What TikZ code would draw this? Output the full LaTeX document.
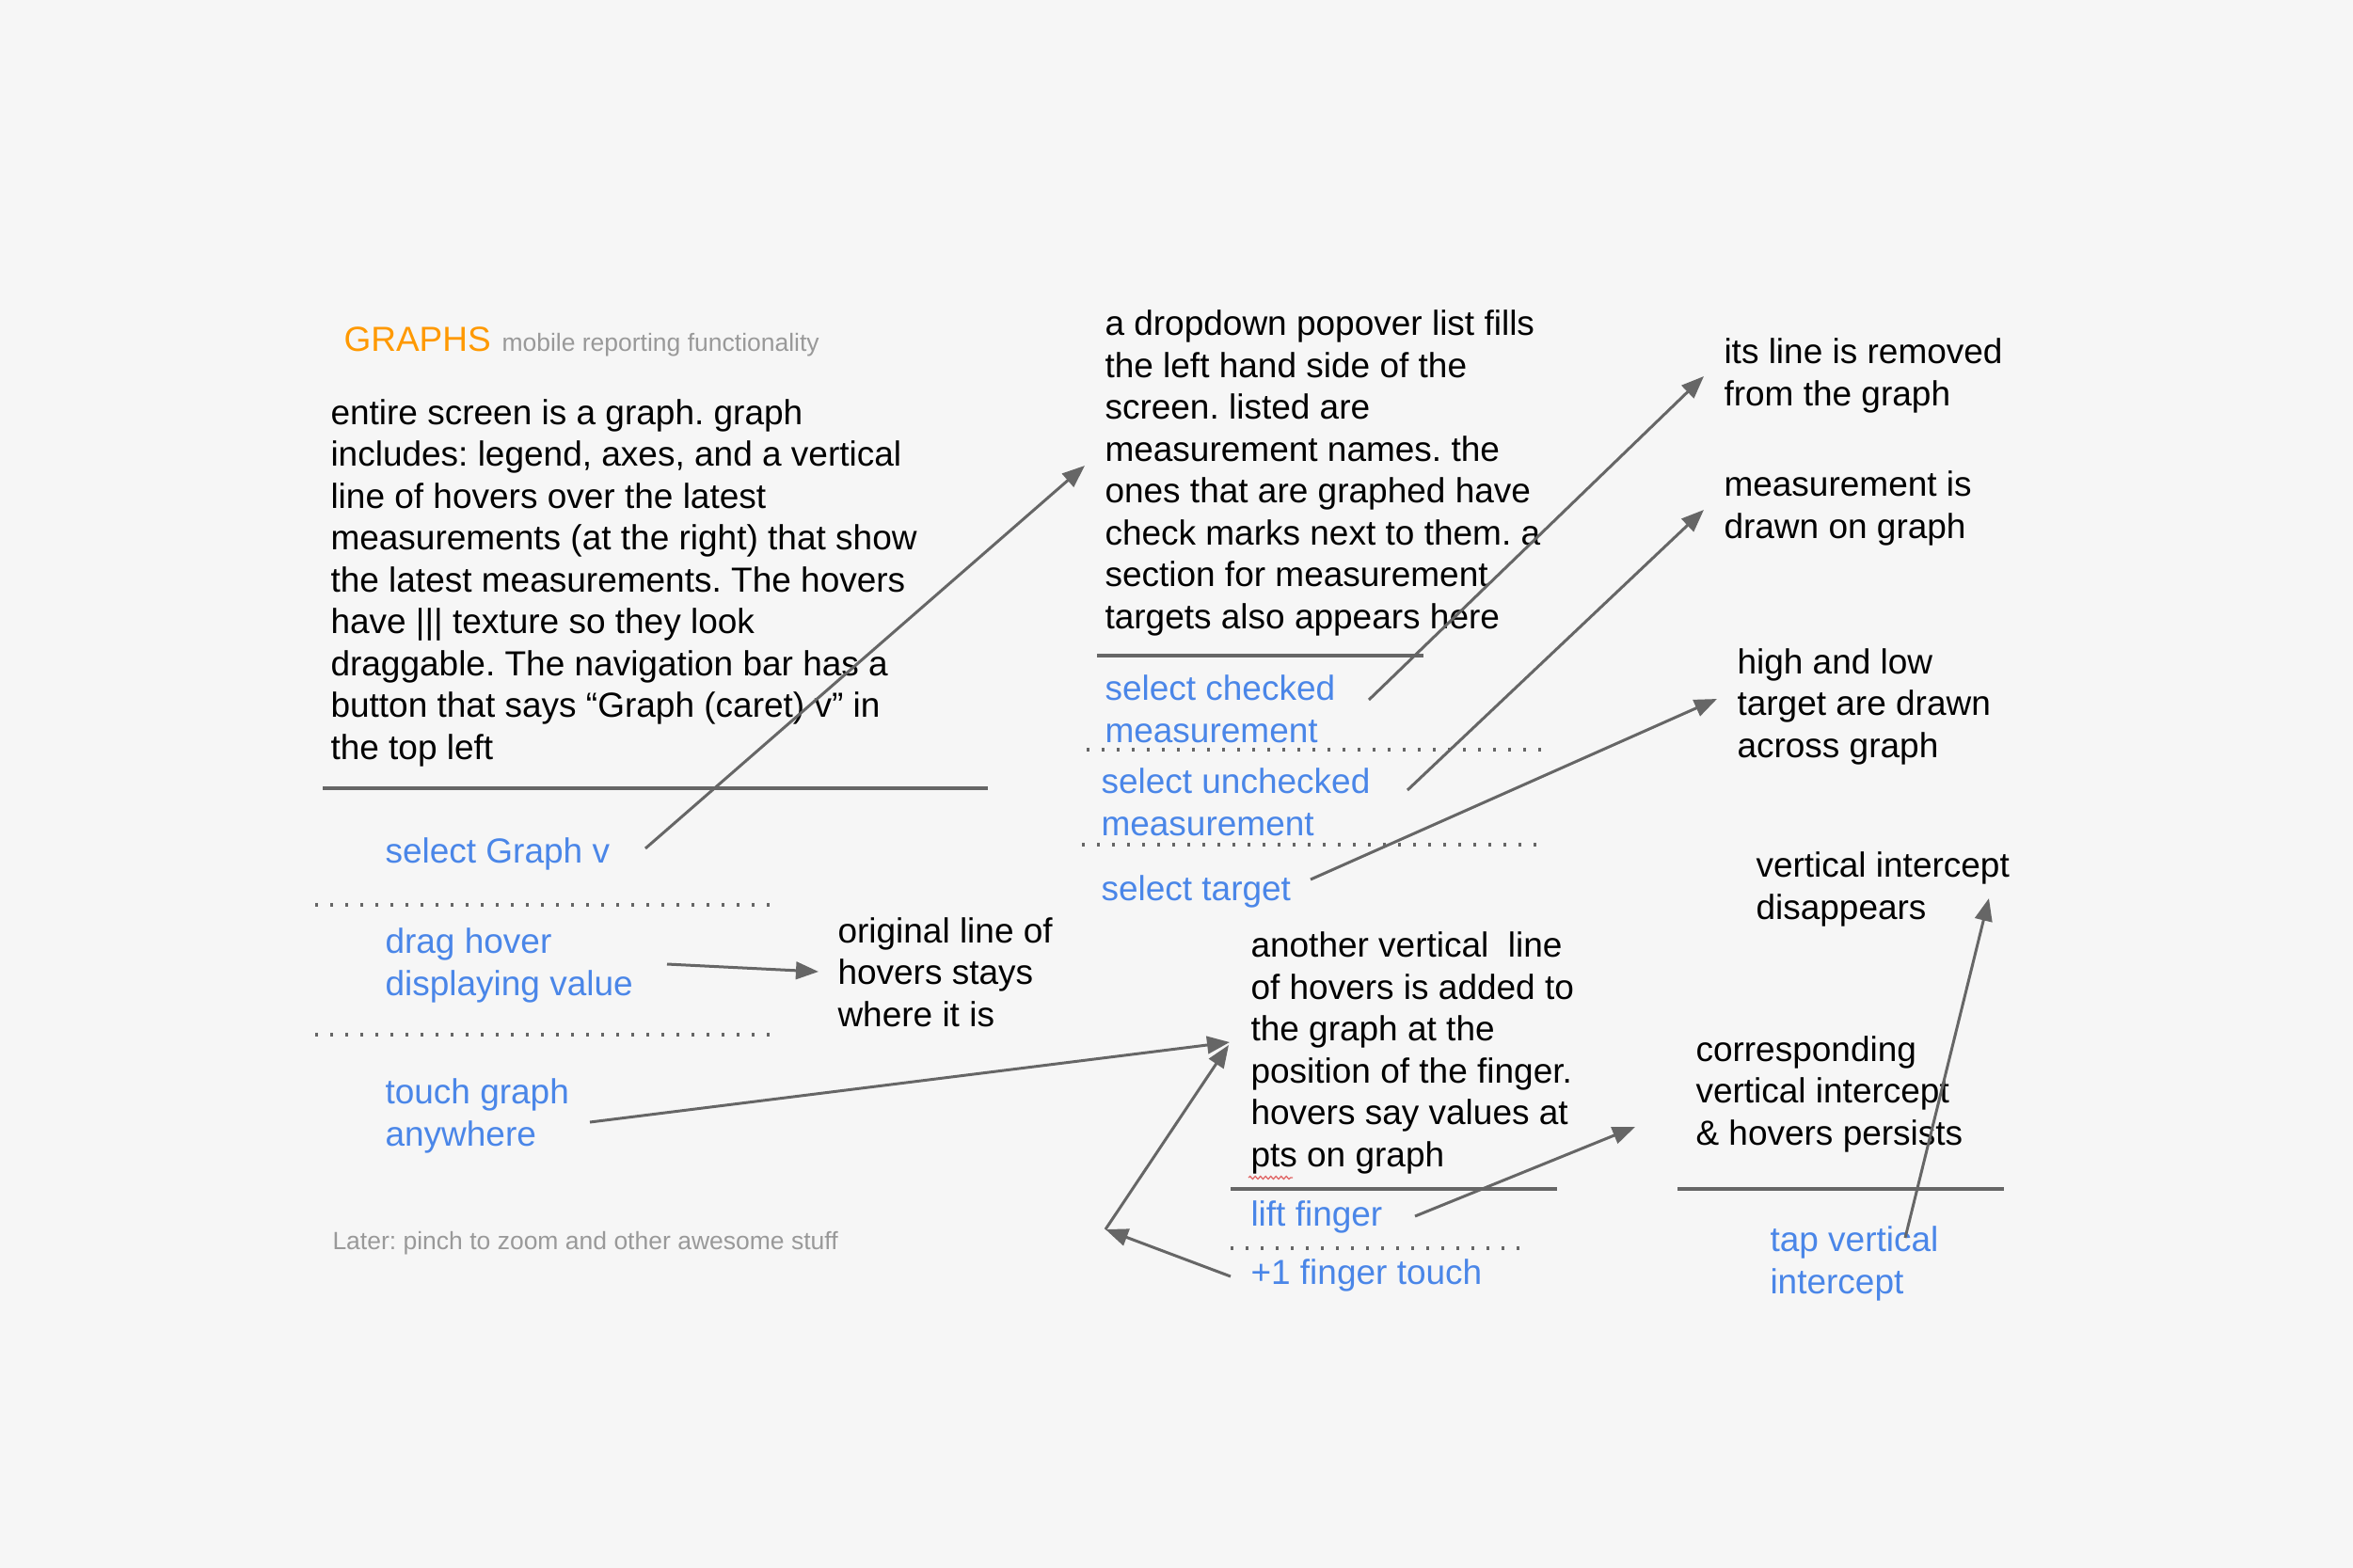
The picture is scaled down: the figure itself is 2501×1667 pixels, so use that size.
\documentclass[tikz,border=0pt]{standalone}
\usepackage{fontspec}
\setmainfont{Liberation Sans}
\usetikzlibrary{arrows.meta,decorations.pathmorphing}
\definecolor{bgcol}{HTML}{F6F6F6}
\definecolor{actblue}{HTML}{4A86E8}
\definecolor{titleorange}{HTML}{FF9900}
\definecolor{notegray}{HTML}{999999}
\definecolor{linegray}{HTML}{666666}
\definecolor{spellred}{HTML}{E06666}
\frenchspacing
\begin{document}
\begin{tikzpicture}[x=0.4pt,y=-0.4pt,
  txt/.style={anchor=base west, align=left, inner sep=0pt, font=\fontsize{14.8pt}{17.8pt}\selectfont},
  body/.style={txt, text=black},
  act/.style={txt, text=actblue},
  note/.style={anchor=base west, inner sep=0pt, font=\fontsize{10.6pt}{12.7pt}\selectfont, text=notegray},
  sepline/.style={draw=linegray, line width=1.6pt},
  dotline/.style={draw=linegray, line width=1.5pt, dash pattern=on 1.2pt off 5.2pt},
  arr/.style={draw=linegray, line width=1.2pt, -{Triangle[length=9.6pt,width=7.4pt]}},
  spell/.style={draw=spellred, line width=0.5pt, decorate, decoration={snake, amplitude=0.6pt, segment length=2.2pt}}
]
\fill[bgcol] (0,0) rectangle (2501,1667);
\useasboundingbox (0,0) rectangle (2501,1667);

% (multi-line nodes are placed by the baseline of their last line)
% title
\node[txt, text=titleorange] (title) at (365,373) {GRAPHS};
\node[note] (subtitle) at (533,373) {mobile reporting functionality};

% left column
\node[body] (intro) at (351,807) {entire screen is a graph. graph\\
includes: legend, axes, and a vertical\\
line of hovers over the latest\\
measurements (at the right) that show\\
the latest measurements. The hovers\\
have ||| texture so they look\\
draggable. The navigation bar has a\\
button that says “Graph (caret) v” in\\
the top left};
\draw[sepline] (343,838) -- (1050,838);
\node[act] (selgraph) at (409,917) {select Graph v};
\draw[dotline] (335,962) -- (818,962);
\node[act] (drag) at (409,1058) {drag hover\\displaying value};
\draw[dotline] (335,1100) -- (818,1100);
\node[act] (touch) at (409,1218) {touch graph\\anywhere};
\node[note] (later) at (353,1328) {Later: pinch to zoom and other awesome stuff};
\node[body] (orig) at (890,1091) {original line of\\hovers stays\\where it is};

% middle column
\node[body] (drop) at (1174,668) {a dropdown popover list fills\\
the left hand side of the\\
screen. listed are\\
measurement names. the\\
ones that are graphed have\\
check marks next to them. a\\
section for measurement\\
targets also appears here};
\draw[sepline] (1166,697) -- (1513,697);
\node[act] (selchecked) at (1174,789) {select checked\\measurement};
\draw[dotline] (1155,797) -- (1638,797);
\node[act] (selunchecked) at (1170,888) {select unchecked\\measurement};
\draw[dotline] (1150,898) -- (1636,898);
\node[act] (seltarget) at (1170,957) {select target};

\node[body] (another) at (1329,1240) {another vertical\ \ line\\
of hovers is added to\\
the graph at the\\
position of the finger.\\
hovers say values at\\
pts on graph};
\draw[spell] (1327,1252) -- (1374,1252);
\draw[sepline] (1308,1264) -- (1655,1264);
\node[act] (lift) at (1329,1303) {lift finger};
\draw[dotline] (1308,1327) -- (1616,1327);
\node[act] (plusone) at (1329,1365) {+1 finger touch};

% right column
\node[body] (removed) at (1832,431) {its line is removed\\from the graph};
\node[body] (drawn) at (1832,572) {measurement is\\drawn on graph};
\node[body] (highlow) at (1846,805) {high and low\\target are drawn\\across graph};
\node[body] (disappears) at (1866,977) {vertical intercept\\disappears};
\node[body] (corr) at (1802,1217) {corresponding\\vertical intercept\\\& hovers persists};
\draw[sepline] (1783,1264) -- (2130,1264);
\node[act] (tap) at (1881,1375) {tap vertical\\intercept};

% connector end points
\coordinate (a1s) at (686,902);   \coordinate (a1e) at (1153,495);
\coordinate (a2s) at (1455,744);  \coordinate (a2e) at (1811,400);
\coordinate (a3s) at (1496,840);  \coordinate (a3e) at (1811,542);
\coordinate (a4s) at (1393,935);  \coordinate (a4e) at (1825,743);
\coordinate (a5s) at (709,1025);  \coordinate (a5e) at (870,1033);
\coordinate (a6s) at (627,1193);  \coordinate (a6e) at (1307,1108);
\coordinate (a7s) at (1308,1357); \coordinate (a7c) at (1175,1307); \coordinate (a7e) at (1306,1111);
\coordinate (a8s) at (1504,1293); \coordinate (a8e) at (1738,1198);
\coordinate (a9s) at (2025,1316); \coordinate (a9e) at (2114,955);

\draw[arr] (a1s) -- (a1e);
\draw[arr] (a2s) -- (a2e);
\draw[arr] (a3s) -- (a3e);
\draw[arr] (a4s) -- (a4e);
\draw[arr] (a5s) -- (a5e);
\draw[arr] (a6s) -- (a6e);
\draw[arr] (a7s) -- (a7c);
\draw[arr] (a7c) -- (a7e);
\draw[arr] (a8s) -- (a8e);
\draw[arr] (a9s) -- (a9e);
\end{tikzpicture}
\end{document}
